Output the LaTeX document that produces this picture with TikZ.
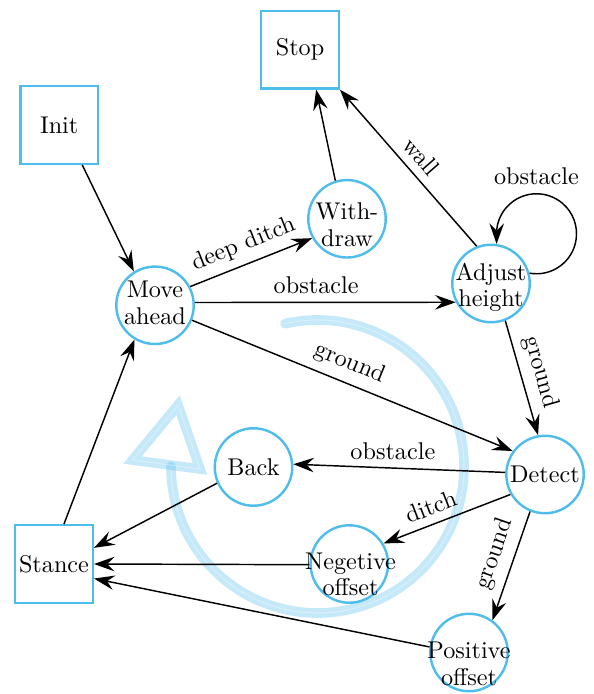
\documentclass[tikz,border=0pt]{standalone}
\usetikzlibrary{arrows.meta}
\definecolor{nodeblue}{RGB}{78,189,235}
\tikzset{
  state/.style={circle, draw=nodeblue, line width=1pt, minimum size=32pt, inner sep=0pt},
  box/.style={rectangle, draw=nodeblue, line width=1pt, minimum size=32pt, inner sep=0pt},
  txt/.style={align=center, inner sep=0pt},
  conn/.style={draw=black, line width=0.6pt, -{Stealth[length=8.5pt,width=6pt,inset=3pt]}},
  lab/.style={text=black},
  flow/.style={draw=nodeblue, opacity=0.33, line width=1.8pt, double=white, double distance=0.4pt}
}
\begin{document}
\begin{tikzpicture}[x=0.4132pt, y=0.4132pt]
\useasboundingbox (0,0) rectangle (593,-694);

% big circular flow arrow in the background
\coordinate (cyc) at (317.5,-466.5);
\draw[flow, line cap=round] (cyc) ++(102.8:146.5) arc[start angle=102.8, end angle=-180, radius=146.5];
\draw[flow, line join=miter] (178,-405) -- (132.5,-460) -- (200,-469) -- cycle;

% states
\node[box] (init) at (59.2,-125) {Init};
\node[box] (stop) at (300,-49.7) {Stop};
\node[box] (stance) at (54,-564) {Stance};
\node[state] (move) at (155,-305.3) {};
\node[state] (withdraw) at (347,-218.8) {};
\node[state] (adjust) at (491,-283.5) {};
\node[state] (back) at (253.5,-467) {Back};
\node[state] (detect) at (545,-474.5) {Detect};
\node[state] (negoff) at (349.3,-564) {};
\node[state] (posoff) at (469,-652.5) {};

\node[txt] (movet) at (155,-302.8) {Move\\[-1pt]ahead};
\node[txt] (withdrawt) at (347,-224.5) {With-\\[-1pt]draw};
\node[txt] (adjustt) at (491,-287.4) {Adjust\\[-1pt]height};
\node[txt] (negofft) at (350.5,-574.2) {Negetive\\[-1pt]offset};
\node[txt] (posofft) at (469,-664) {Positive\\[-1pt]offset};

% transitions
\draw[conn] (init.-60) -- (move.122);
\draw[conn] (move.28) -- node[lab, above, sloped] (ldd) {deep ditch} (withdraw.209);
\draw[conn] (withdraw.107) -- (stop.-68);
\draw[conn] (move.4) -- node[lab, above, pos=0.465] (lobs1) {obstacle} (adjust.208);
\draw[conn] (move.-22) -- node[lab, above, sloped, pos=0.47] (lgr1) {ground} (detect.144);
\draw[conn] (adjust.111) -- node[lab, above, sloped] (lwall) {wall} (stop.south east);
\draw[conn] (adjust.15) arc[start angle=-100, end angle=90, radius=40]
  node[lab, above] (lobs2) {obstacle}
  arc[start angle=90, end angle=175, radius=40] -- (adjust.82);
\draw[conn] (adjust.-69) -- node[lab, above, sloped] (lgr2) {ground} (detect.100);
\draw[conn] (detect.177) -- node[lab, above, pos=0.53] (lobs3) {obstacle} (back.4);
\draw[conn] (detect.210) -- node[lab, above, sloped, pos=0.58] (lditch) {ditch} (negoff.31);
\draw[conn] (detect.-112) -- node[lab, above, sloped, pos=0.45] (lgr3) {ground} (posoff.54);
\draw[conn] (back.204) -- (stance.22);
\draw[conn] (negoff.181) -- (stance.east);
\draw[conn] (posoff.172) -- (stance.-20);
\draw[conn] (stance.76) -- (move.-121);
\end{tikzpicture}
\end{document}
